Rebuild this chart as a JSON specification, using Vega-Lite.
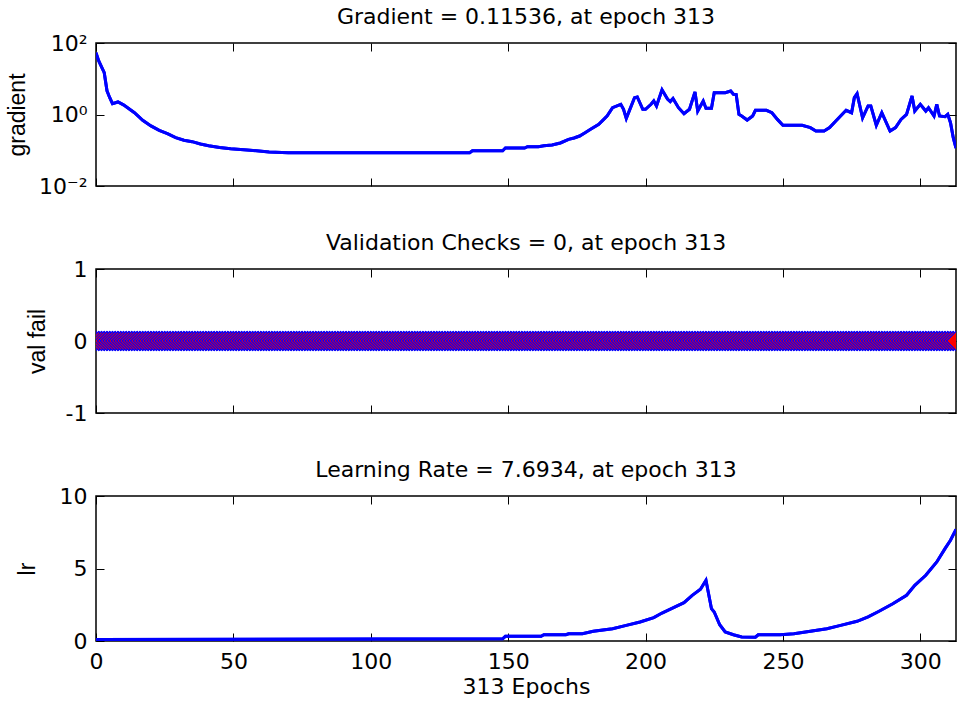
{
  "$schema": "https://vega.github.io/schema/vega-lite/v6.json",
  "padding": {"left": 5, "top": 5, "right": 0, "bottom": 0},
  "background": "white",
  "spacing": 33,
  "datasets": {
    "grad": [
      {"e":0,"g":53},{"e":1,"g":31.6},{"e":3,"g":14.8},{"e":4,"g":4.6},{"e":5,"g":2.95},{"e":6,"g":2.0},{"e":8,"g":2.24},{"e":10,"g":1.86},{"e":14,"g":1.12},{"e":17,"g":0.69},{"e":20,"g":0.48},{"e":23,"g":0.36},{"e":26,"g":0.29},{"e":29,"g":0.225},{"e":32,"g":0.19},{"e":35,"g":0.174},{"e":38,"g":0.15},{"e":41,"g":0.134},{"e":45,"g":0.12},{"e":49,"g":0.11},{"e":55,"g":0.102},{"e":63,"g":0.089},{"e":70,"g":0.0855},{"e":136,"g":0.0855},{"e":137,"g":0.097},{"e":148,"g":0.097},{"e":149,"g":0.1156},{"e":156,"g":0.1156},{"e":157,"g":0.126},{"e":161,"g":0.126},{"e":163,"g":0.133},{"e":166,"g":0.14},{"e":169,"g":0.16},{"e":172,"g":0.202},{"e":174,"g":0.22},{"e":176,"g":0.25},{"e":178,"g":0.31},{"e":180,"g":0.385},{"e":183,"g":0.532},{"e":186,"g":0.908},{"e":188,"g":1.55},{"e":191,"g":1.93},{"e":192,"g":1.4},{"e":193,"g":0.78},{"e":196,"g":2.95},{"e":197,"g":3.09},{"e":199,"g":1.4},{"e":200,"g":1.4},{"e":202,"g":1.93},{"e":203,"g":2.39},{"e":204,"g":1.73},{"e":206,"g":4.9},{"e":208,"g":2.7},{"e":209,"g":2.3},{"e":210,"g":2.8},{"e":212,"g":1.55},{"e":214,"g":1.05},{"e":216,"g":1.4},{"e":218,"g":4.3},{"e":219,"g":1.25},{"e":221,"g":2.39},{"e":222,"g":1.5},{"e":224,"g":1.5},{"e":225,"g":4.07},{"e":229,"g":4.07},{"e":231,"g":4.54},{"e":232,"g":3.67},{"e":233,"g":3.6},{"e":234,"g":1.01},{"e":235,"g":0.908},{"e":237,"g":0.7},{"e":239,"g":0.908},{"e":240,"g":1.31},{"e":244,"g":1.31},{"e":246,"g":1.12},{"e":248,"g":0.73},{"e":250,"g":0.5},{"e":257,"g":0.5},{"e":260,"g":0.43},{"e":262,"g":0.345},{"e":265,"g":0.345},{"e":267,"g":0.43},{"e":269,"g":0.63},{"e":271,"g":0.908},{"e":273,"g":1.31},{"e":275,"g":1.12},{"e":276,"g":2.95},{"e":277,"g":3.82},{"e":279,"g":0.8},{"e":281,"g":1.73},{"e":282,"g":1.73},{"e":284,"g":0.5},{"e":286,"g":1.12},{"e":289,"g":0.345},{"e":291,"g":0.43},{"e":293,"g":0.73},{"e":295,"g":1.01},{"e":297,"g":3.29},{"e":298,"g":1.25},{"e":300,"g":1.93},{"e":302,"g":1.25},{"e":303,"g":1.55},{"e":305,"g":0.908},{"e":306,"g":1.93},{"e":307,"g":0.908},{"e":309,"g":0.87},{"e":310,"g":1.01},{"e":311,"g":0.59},{"e":312,"g":0.224},{"e":313,"g":0.11536}
    ],
    "lr": [
      {"e":0,"r":0.1},{"e":148,"r":0.15},{"e":149,"r":0.32},{"e":162,"r":0.32},{"e":163,"r":0.43},{"e":171,"r":0.43},{"e":172,"r":0.5},{"e":177,"r":0.5},{"e":181,"r":0.67},{"e":188,"r":0.85},{"e":193,"r":1.08},{"e":198,"r":1.31},{"e":203,"r":1.61},{"e":206,"r":1.93},{"e":210,"r":2.28},{"e":214,"r":2.64},{"e":217,"r":3.15},{"e":220,"r":3.57},{"e":222,"r":4.19},{"e":224,"r":2.23},{"e":225,"r":2.0},{"e":227,"r":1.12},{"e":229,"r":0.62},{"e":232,"r":0.43},{"e":235,"r":0.28},{"e":240,"r":0.26},{"e":241,"r":0.43},{"e":249,"r":0.43},{"e":254,"r":0.5},{"e":260,"r":0.67},{"e":266,"r":0.85},{"e":271,"r":1.08},{"e":277,"r":1.36},{"e":281,"r":1.66},{"e":285,"r":2.05},{"e":290,"r":2.57},{"e":295,"r":3.15},{"e":298,"r":3.84},{"e":302,"r":4.53},{"e":306,"r":5.45},{"e":309,"r":6.37},{"e":311,"r":6.95},{"e":313,"r":7.6934}
    ],
    "val": [
      {"e":0,"v":0},{"e":1,"v":0},{"e":2,"v":0},{"e":3,"v":0},{"e":4,"v":0},{"e":5,"v":0},{"e":6,"v":0},{"e":7,"v":0},{"e":8,"v":0},{"e":9,"v":0},
      {"e":10,"v":0},{"e":11,"v":0},{"e":12,"v":0},{"e":13,"v":0},{"e":14,"v":0},{"e":15,"v":0},{"e":16,"v":0},{"e":17,"v":0},{"e":18,"v":0},{"e":19,"v":0},
      {"e":20,"v":0},{"e":21,"v":0},{"e":22,"v":0},{"e":23,"v":0},{"e":24,"v":0},{"e":25,"v":0},{"e":26,"v":0},{"e":27,"v":0},{"e":28,"v":0},{"e":29,"v":0},
      {"e":30,"v":0},{"e":31,"v":0},{"e":32,"v":0},{"e":33,"v":0},{"e":34,"v":0},{"e":35,"v":0},{"e":36,"v":0},{"e":37,"v":0},{"e":38,"v":0},{"e":39,"v":0},
      {"e":40,"v":0},{"e":41,"v":0},{"e":42,"v":0},{"e":43,"v":0},{"e":44,"v":0},{"e":45,"v":0},{"e":46,"v":0},{"e":47,"v":0},{"e":48,"v":0},{"e":49,"v":0},
      {"e":50,"v":0},{"e":51,"v":0},{"e":52,"v":0},{"e":53,"v":0},{"e":54,"v":0},{"e":55,"v":0},{"e":56,"v":0},{"e":57,"v":0},{"e":58,"v":0},{"e":59,"v":0},
      {"e":60,"v":0},{"e":61,"v":0},{"e":62,"v":0},{"e":63,"v":0},{"e":64,"v":0},{"e":65,"v":0},{"e":66,"v":0},{"e":67,"v":0},{"e":68,"v":0},{"e":69,"v":0},
      {"e":70,"v":0},{"e":71,"v":0},{"e":72,"v":0},{"e":73,"v":0},{"e":74,"v":0},{"e":75,"v":0},{"e":76,"v":0},{"e":77,"v":0},{"e":78,"v":0},{"e":79,"v":0},
      {"e":80,"v":0},{"e":81,"v":0},{"e":82,"v":0},{"e":83,"v":0},{"e":84,"v":0},{"e":85,"v":0},{"e":86,"v":0},{"e":87,"v":0},{"e":88,"v":0},{"e":89,"v":0},
      {"e":90,"v":0},{"e":91,"v":0},{"e":92,"v":0},{"e":93,"v":0},{"e":94,"v":0},{"e":95,"v":0},{"e":96,"v":0},{"e":97,"v":0},{"e":98,"v":0},{"e":99,"v":0},
      {"e":100,"v":0},{"e":101,"v":0},{"e":102,"v":0},{"e":103,"v":0},{"e":104,"v":0},{"e":105,"v":0},{"e":106,"v":0},{"e":107,"v":0},{"e":108,"v":0},{"e":109,"v":0},
      {"e":110,"v":0},{"e":111,"v":0},{"e":112,"v":0},{"e":113,"v":0},{"e":114,"v":0},{"e":115,"v":0},{"e":116,"v":0},{"e":117,"v":0},{"e":118,"v":0},{"e":119,"v":0},
      {"e":120,"v":0},{"e":121,"v":0},{"e":122,"v":0},{"e":123,"v":0},{"e":124,"v":0},{"e":125,"v":0},{"e":126,"v":0},{"e":127,"v":0},{"e":128,"v":0},{"e":129,"v":0},
      {"e":130,"v":0},{"e":131,"v":0},{"e":132,"v":0},{"e":133,"v":0},{"e":134,"v":0},{"e":135,"v":0},{"e":136,"v":0},{"e":137,"v":0},{"e":138,"v":0},{"e":139,"v":0},
      {"e":140,"v":0},{"e":141,"v":0},{"e":142,"v":0},{"e":143,"v":0},{"e":144,"v":0},{"e":145,"v":0},{"e":146,"v":0},{"e":147,"v":0},{"e":148,"v":0},{"e":149,"v":0},
      {"e":150,"v":0},{"e":151,"v":0},{"e":152,"v":0},{"e":153,"v":0},{"e":154,"v":0},{"e":155,"v":0},{"e":156,"v":0},{"e":157,"v":0},{"e":158,"v":0},{"e":159,"v":0},
      {"e":160,"v":0},{"e":161,"v":0},{"e":162,"v":0},{"e":163,"v":0},{"e":164,"v":0},{"e":165,"v":0},{"e":166,"v":0},{"e":167,"v":0},{"e":168,"v":0},{"e":169,"v":0},
      {"e":170,"v":0},{"e":171,"v":0},{"e":172,"v":0},{"e":173,"v":0},{"e":174,"v":0},{"e":175,"v":0},{"e":176,"v":0},{"e":177,"v":0},{"e":178,"v":0},{"e":179,"v":0},
      {"e":180,"v":0},{"e":181,"v":0},{"e":182,"v":0},{"e":183,"v":0},{"e":184,"v":0},{"e":185,"v":0},{"e":186,"v":0},{"e":187,"v":0},{"e":188,"v":0},{"e":189,"v":0},
      {"e":190,"v":0},{"e":191,"v":0},{"e":192,"v":0},{"e":193,"v":0},{"e":194,"v":0},{"e":195,"v":0},{"e":196,"v":0},{"e":197,"v":0},{"e":198,"v":0},{"e":199,"v":0},
      {"e":200,"v":0},{"e":201,"v":0},{"e":202,"v":0},{"e":203,"v":0},{"e":204,"v":0},{"e":205,"v":0},{"e":206,"v":0},{"e":207,"v":0},{"e":208,"v":0},{"e":209,"v":0},
      {"e":210,"v":0},{"e":211,"v":0},{"e":212,"v":0},{"e":213,"v":0},{"e":214,"v":0},{"e":215,"v":0},{"e":216,"v":0},{"e":217,"v":0},{"e":218,"v":0},{"e":219,"v":0},
      {"e":220,"v":0},{"e":221,"v":0},{"e":222,"v":0},{"e":223,"v":0},{"e":224,"v":0},{"e":225,"v":0},{"e":226,"v":0},{"e":227,"v":0},{"e":228,"v":0},{"e":229,"v":0},
      {"e":230,"v":0},{"e":231,"v":0},{"e":232,"v":0},{"e":233,"v":0},{"e":234,"v":0},{"e":235,"v":0},{"e":236,"v":0},{"e":237,"v":0},{"e":238,"v":0},{"e":239,"v":0},
      {"e":240,"v":0},{"e":241,"v":0},{"e":242,"v":0},{"e":243,"v":0},{"e":244,"v":0},{"e":245,"v":0},{"e":246,"v":0},{"e":247,"v":0},{"e":248,"v":0},{"e":249,"v":0},
      {"e":250,"v":0},{"e":251,"v":0},{"e":252,"v":0},{"e":253,"v":0},{"e":254,"v":0},{"e":255,"v":0},{"e":256,"v":0},{"e":257,"v":0},{"e":258,"v":0},{"e":259,"v":0},
      {"e":260,"v":0},{"e":261,"v":0},{"e":262,"v":0},{"e":263,"v":0},{"e":264,"v":0},{"e":265,"v":0},{"e":266,"v":0},{"e":267,"v":0},{"e":268,"v":0},{"e":269,"v":0},
      {"e":270,"v":0},{"e":271,"v":0},{"e":272,"v":0},{"e":273,"v":0},{"e":274,"v":0},{"e":275,"v":0},{"e":276,"v":0},{"e":277,"v":0},{"e":278,"v":0},{"e":279,"v":0},
      {"e":280,"v":0},{"e":281,"v":0},{"e":282,"v":0},{"e":283,"v":0},{"e":284,"v":0},{"e":285,"v":0},{"e":286,"v":0},{"e":287,"v":0},{"e":288,"v":0},{"e":289,"v":0},
      {"e":290,"v":0},{"e":291,"v":0},{"e":292,"v":0},{"e":293,"v":0},{"e":294,"v":0},{"e":295,"v":0},{"e":296,"v":0},{"e":297,"v":0},{"e":298,"v":0},{"e":299,"v":0},
      {"e":300,"v":0},{"e":301,"v":0},{"e":302,"v":0},{"e":303,"v":0},{"e":304,"v":0},{"e":305,"v":0},{"e":306,"v":0},{"e":307,"v":0},{"e":308,"v":0},{"e":309,"v":0},
      {"e":310,"v":0},{"e":311,"v":0},{"e":312,"v":0},{"e":313,"v":0}
    ]
  },
  "config": {
    "font": "DejaVu Sans",
    "view": {"stroke": "black", "strokeWidth": 1.5},
    "axis": {
      "grid": false, "domain": false,
      "tickColor": "black", "tickWidth": 1, "tickSize": -8,
      "labelColor": "black", "labelFontSize": 22, "labelFont": "DejaVu Sans",
      "labelFlush": false, "labelOverlap": false,
      "titleFontSize": 23, "titleFont": "Liberation Sans", "titleFontWeight": "normal", "titleColor": "black"
    },
    "title": {"fontSize": 22, "fontWeight": "normal", "font": "DejaVu Sans", "color": "black", "baseline": "alphabetic", "offset": 3}
  },
  "vconcat": [
    {
      "width": 860, "height": 143,
      "title": "Gradient = 0.11536, at epoch 313",
      "data": {"name": "grad"},
      "layer": [
        {
          "mark": {"type": "line", "color": "#0000ff", "strokeWidth": 3, "clip": true},
          "encoding": {
            "x": {"field": "e", "type": "quantitative", "scale": {"domain": [0, 313], "nice": false, "zero": false},
                  "axis": {"orient": "bottom", "values": [0, 50, 100, 150, 200, 250, 300], "labels": false, "title": null}},
            "y": {"field": "g", "type": "quantitative", "scale": {"type": "log", "domain": [0.01, 100], "nice": false},
                  "axis": {"orient": "left", "values": [0.01, 1, 100], "labelPadding": 17,
                           "labelExpr": "datum.value >= 50 ? '10²' : datum.value >= 0.5 ? '10⁰' : '10⁻²'",
                           "title": "gradient", "titleX": -79, "titleBaseline": "middle"}}
          }
        },
        {
          "mark": {"type": "line", "color": "#0000ff", "strokeWidth": 3, "clip": true},
          "encoding": {
            "x": {"field": "e", "type": "quantitative", "axis": {"orient": "top", "values": [0, 50, 100, 150, 200, 250, 300], "labels": false, "title": null}},
            "y": {"field": "g", "type": "quantitative", "axis": {"orient": "right", "values": [0.01, 1, 100], "labels": false, "title": null}}
          }
        }
      ],
      "resolve": {"axis": {"x": "independent", "y": "independent"}}
    },
    {
      "width": 860, "height": 144,
      "title": "Validation Checks = 0, at epoch 313",
      "data": {"name": "val"},
      "layer": [
        {
          "mark": {"type": "point", "shape": "diamond", "size": 361, "filled": true, "fill": "#ff0000", "stroke": "#0000ff", "strokeWidth": 1.2, "opacity": 1, "clip": true},
          "encoding": {
            "x": {"field": "e", "type": "quantitative", "scale": {"domain": [0, 313], "nice": false, "zero": false},
                  "axis": {"orient": "bottom", "values": [0, 50, 100, 150, 200, 250, 300], "labels": false, "title": null}},
            "y": {"field": "v", "type": "quantitative", "scale": {"domain": [-1, 1], "nice": false},
                  "axis": {"orient": "left", "values": [-1, 0, 1], "labelPadding": 17,
                           "labelExpr": "datum.value < 0 ? '-1' : datum.value > 0 ? '1' : '0'",
                           "title": "val fail", "titleX": -59, "titleBaseline": "middle"}}
          }
        },
        {
          "mark": {"type": "point", "shape": "diamond", "size": 361, "filled": true, "fill": "#ff0000", "stroke": "#0000ff", "strokeWidth": 1.2, "opacity": 1, "clip": true},
          "encoding": {
            "x": {"field": "e", "type": "quantitative", "axis": {"orient": "top", "values": [0, 50, 100, 150, 200, 250, 300], "labels": false, "title": null}},
            "y": {"field": "v", "type": "quantitative", "axis": {"orient": "right", "values": [-1, 0, 1], "labels": false, "title": null}}
          }
        }
      ],
      "resolve": {"axis": {"x": "independent", "y": "independent"}}
    },
    {
      "width": 860, "height": 145,
      "title": "Learning Rate = 7.6934, at epoch 313",
      "data": {"name": "lr"},
      "layer": [
        {
          "mark": {"type": "line", "color": "#0000ff", "strokeWidth": 3, "clip": true},
          "encoding": {
            "x": {"field": "e", "type": "quantitative", "scale": {"domain": [0, 313], "nice": false, "zero": false},
                  "axis": {"orient": "bottom", "values": [0, 50, 100, 150, 200, 250, 300], "labelPadding": 18,
                           "title": "313 Epochs", "titleFont": "DejaVu Sans", "titleFontSize": 22, "titlePadding": 4}},
            "y": {"field": "r", "type": "quantitative", "scale": {"domain": [0, 10], "nice": false},
                  "axis": {"orient": "left", "values": [0, 5, 10], "labelPadding": 17,
                           "title": "lr", "titleX": -69, "titleBaseline": "middle"}}
          }
        },
        {
          "mark": {"type": "line", "color": "#0000ff", "strokeWidth": 3, "clip": true},
          "encoding": {
            "x": {"field": "e", "type": "quantitative", "axis": {"orient": "top", "values": [0, 50, 100, 150, 200, 250, 300], "labels": false, "title": null}},
            "y": {"field": "r", "type": "quantitative", "axis": {"orient": "right", "values": [0, 5, 10], "labels": false, "title": null}}
          }
        }
      ],
      "resolve": {"axis": {"x": "independent", "y": "independent"}}
    }
  ]
}
